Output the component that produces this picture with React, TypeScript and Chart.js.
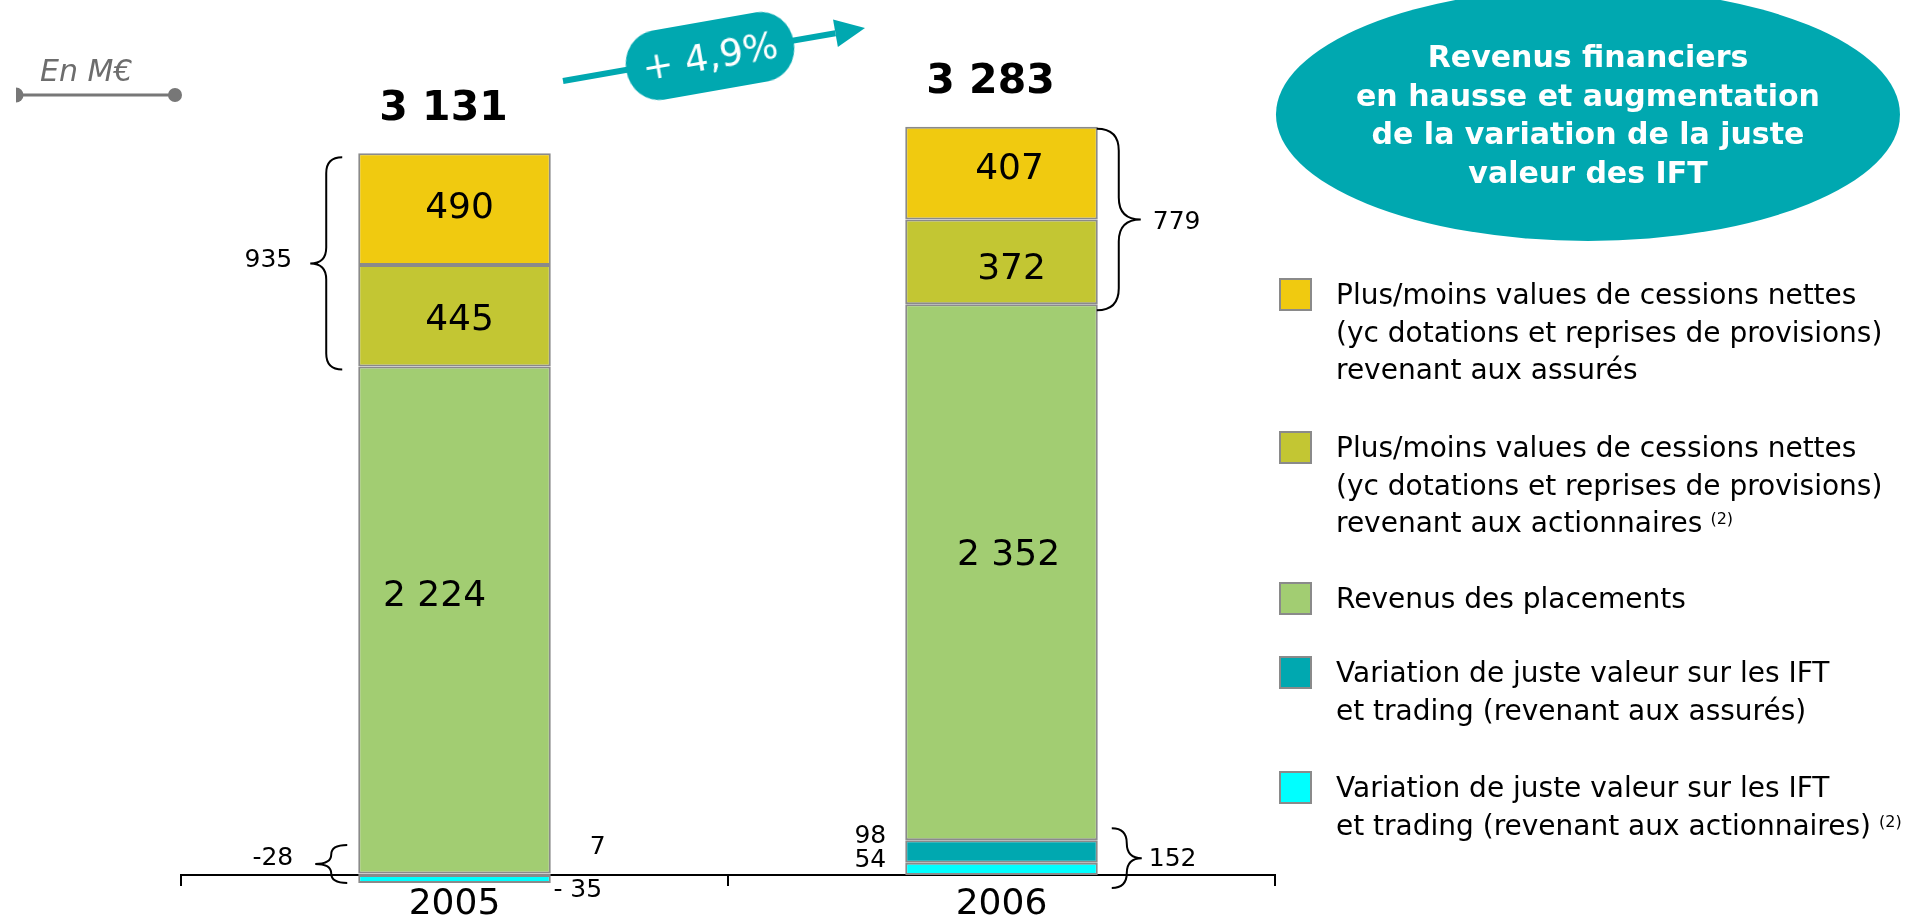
import React, { useEffect, useRef } from 'react';
import { Chart, registerables } from 'chart.js';

Chart.register(...registerables);

// ---------- data ----------
const categories = ['2005', '2006'];
const plusValuesAssures = [490, 407];
const plusValuesActionnaires = [445, 372];
const revenusPlacements = [2224, 2352];
const jvAssures = [7, 98];
const jvActionnaires = [-35, 54];

const seriesColors = ['#F0CA10', '#C3C633', '#A2CD72', '#00A8B0', '#00FFFF'];
const legendLabels = [
  ['Plus/moins values de cessions nettes', '(yc dotations et reprises de provisions)', 'revenant aux assurés'],
  ['Plus/moins values de cessions nettes', '(yc dotations et reprises de provisions)', 'revenant aux actionnaires'],
  ['Revenus des placements'],
  ['Variation de juste valeur sur les IFT', 'et trading (revenant aux assurés)'],
  ['Variation de juste valeur sur les IFT', 'et trading (revenant aux actionnaires)'],
];
const legendNotes = ['', '(2)', '', '', '(2)'];
const bubbleLines = ['Revenus financiers', 'en hausse et augmentation', 'de la variation de la juste', 'valeur des IFT'];
const unitLabel = 'En M€';

// ---------- derived ----------
const seriesTopDown = [plusValuesAssures, plusValuesActionnaires, revenusPlacements, jvAssures, jvActionnaires];
const totals = categories.map((_, i) => seriesTopDown.reduce((s, a) => s + a[i], 0));
const growth = ((totals[1] / totals[0]) - 1) * 100;
const growthLabel = '+ ' + growth.toFixed(1).replace('.', ',') + '%';

// ---------- layout ----------
const W = 1913;
const H = 921;
const SANS = '"DejaVu Sans", "Noto Sans", sans-serif';
const BORDER = '#8A8A8A';
const TEAL = '#00A8B0';
const legendTops = [278, 431, 582, 656, 771];
// in-bar label offsets [dx, dy] for green, olive, yellow per category
const inBarOffsets = [
  [[-20, -23], [7, -17]],
  [[5, 5], [10, 8]],
  [[5, -1], [8, -3]],
];

const fmt = (n: number) => {
  const s = Math.abs(n).toString().replace(/\B(?=(\d{3})+(?!\d))/g, ' ');
  return n < 0 ? '-' + s : s;
};
const fmtSpaced = (n: number) => (n < 0 ? '- ' + fmt(-n) : fmt(n));

function brace(ctx: CanvasRenderingContext2D, x0: number, dir: number, depth: number, yTop: number, yBot: number) {
  const xm = x0 + (dir * depth) / 2;
  const xt = x0 + dir * depth;
  const tipY = (yTop + yBot) / 2;
  const r = Math.min(depth / 2, (yBot - yTop) / 4);
  ctx.beginPath();
  ctx.moveTo(x0, yTop);
  ctx.quadraticCurveTo(xm, yTop, xm, yTop + r);
  ctx.lineTo(xm, tipY - r);
  ctx.quadraticCurveTo(xm, tipY, xt, tipY);
  ctx.quadraticCurveTo(xm, tipY, xm, tipY + r);
  ctx.lineTo(xm, yBot - r);
  ctx.quadraticCurveTo(xm, yBot, x0, yBot);
  ctx.stroke();
  return { xt, tipY };
}

const annotate = {
  id: 'annotate',
  afterDraw(chart: any) {
    const ctx: CanvasRenderingContext2D = chart.ctx;
    const ys = chart.scales.y;
    const meta = (i: number) => chart.getDatasetMeta(i).data as any[];
    const axisY = ys.getPixelForValue(0);
    ctx.save();
    ctx.fillStyle = '#000';
    ctx.strokeStyle = '#000';
    ctx.lineWidth = 2;
    ctx.textBaseline = 'middle';
    ctx.textAlign = 'center';

    // in-bar labels (datasets 2 green, 3 olive, 4 yellow)
    ctx.font = `36px ${SANS}`;
    [2, 3, 4].forEach((di, k) => {
      meta(di).forEach((bar, ci) => {
        const [dx, dy] = inBarOffsets[k][ci];
        ctx.fillText(fmt(chart.data.datasets[di].data[ci]), bar.x + dx, (bar.y + bar.base) / 2 + dy);
      });
    });

    // totals
    ctx.font = `bold 41px ${SANS}`;
    totals.forEach((t, ci) => {
      const bar = meta(4)[ci];
      ctx.fillText(fmt(t), bar.x - 11, bar.y - 44);
    });

    ctx.font = `25px ${SANS}`;
    // top braces
    {
      const b0 = meta(4)[0];
      const l0 = b0.x - b0.width / 2;
      const p = brace(ctx, l0 - 16, -1, 32, b0.y + 4, meta(3)[0].base + 3);
      ctx.textAlign = 'right';
      ctx.fillText(fmt(plusValuesAssures[0] + plusValuesActionnaires[0]), p.xt - 18, p.tipY - 3);
    }
    {
      const b1 = meta(4)[1];
      const r1 = b1.x + b1.width / 2;
      const p = brace(ctx, r1 - 1, 1, 44, b1.y + 2, meta(3)[1].base + 6);
      ctx.textAlign = 'left';
      ctx.fillText(fmt(plusValuesAssures[1] + plusValuesActionnaires[1]), p.xt + 12, p.tipY + 3);
    }
    // bottom braces
    {
      const c0 = meta(0)[0];
      const l0 = c0.x - c0.width / 2;
      const r0 = c0.x + c0.width / 2;
      const p = brace(ctx, l0 - 11, -1, 32, axisY - 30, Math.max(c0.y, c0.base));
      ctx.textAlign = 'right';
      ctx.fillText(fmt(jvAssures[0] + jvActionnaires[0]), p.xt - 22, p.tipY - 5);
      ctx.textAlign = 'center';
      ctx.fillText(fmtSpaced(jvAssures[0]), r0 + 47, axisY - 28);
      ctx.fillText(fmtSpaced(jvActionnaires[0]), r0 + 27, axisY + 15);
    }
    {
      const t1 = meta(1)[1];
      const l1 = t1.x - t1.width / 2;
      const r1 = t1.x + t1.width / 2;
      const p = brace(ctx, r1 + 14, 1, 30, t1.y - 12, axisY + 13);
      ctx.textAlign = 'left';
      ctx.fillText(fmt(jvAssures[1] + jvActionnaires[1]), p.xt + 7, p.tipY + 1);
      ctx.textAlign = 'right';
      ctx.fillText(fmtSpaced(jvAssures[1]), l1 - 19, axisY - 39);
      ctx.fillText(fmtSpaced(jvActionnaires[1]), l1 - 19, axisY - 15);
    }
    ctx.restore();
  },
};

export default function App() {
  const canvasRef = useRef<HTMLCanvasElement | null>(null);

  useEffect(() => {
    const canvas = canvasRef.current;
    if (!canvas) return;
    const bottomUp = [jvActionnaires, jvAssures, revenusPlacements, plusValuesActionnaires, plusValuesAssures];
    const colorsBottomUp = [...seriesColors].reverse();
    const labelsBottomUp = [...legendLabels].reverse();
    const chart = new Chart(canvas, {
      type: 'bar',
      data: {
        labels: categories,
        datasets: bottomUp.map((d, i) => ({
          label: labelsBottomUp[i].join(' '),
          data: d,
          backgroundColor: colorsBottomUp[i],
          borderColor: BORDER,
          borderWidth: 2,
          borderSkipped: false,
          clip: false as any,
          barPercentage: 0.352,
          categoryPercentage: 1,
        })),
      },
      options: {
        animation: false,
        responsive: false,
        maintainAspectRatio: false,
        devicePixelRatio: 1,
        layout: { padding: { left: 181, right: 638, top: 100, bottom: 0 } },
        plugins: { legend: { display: false }, tooltip: { enabled: false }, title: { display: false } },
        scales: {
          x: {
            stacked: true,
            position: 'bottom',
            offset: true,
            z: 1,
            grid: { offset: true, drawOnChartArea: false, drawTicks: true, tickLength: 11, color: '#000', lineWidth: 2 },
            border: { display: true, color: '#000', width: 2 },
            ticks: { color: '#000', padding: 1, maxRotation: 0, autoSkip: false, font: { family: SANS, size: 36, lineHeight: 1 } },
            afterFit: (s: any) => { s.height = 46; },
          },
          y: { stacked: true, display: false, min: 0, max: 3400 },
        },
      },
      plugins: [annotate],
    });
    return () => chart.destroy();
  }, []);

  // arrow geometry
  const ax0 = 563, ay0 = 81, tipX = 865, tipY = 28;
  const len = Math.hypot(tipX - ax0, tipY - ay0);
  const ux = (tipX - ax0) / len, uy = (tipY - ay0) / len;
  const bx = tipX - ux * 30, by = tipY - uy * 30;
  const px = -uy, py = ux;
  const head = `${tipX},${tipY} ${bx + px * 14},${by + py * 14} ${bx - px * 14},${by - py * 14}`;

  return (
    <div style={{ position: 'fixed', left: 0, top: 0, width: W, height: H, overflow: 'hidden', background: '#fff', fontFamily: SANS }}>
      <canvas ref={canvasRef} width={W} height={H} style={{ position: 'absolute', left: 0, top: 0 }} />
      <svg width={W} height={H} style={{ position: 'absolute', left: 0, top: 0, pointerEvents: 'none' }}>
        <line x1={ax0} y1={ay0} x2={bx} y2={by} stroke={TEAL} strokeWidth={6} />
        <polygon points={head} fill={TEAL} />
        <line x1={18} y1={95} x2={175} y2={95} stroke="#777" strokeWidth={3} />
        <circle cx={175} cy={95} r={7} fill="#777" />
        <path d="M 16 87.5 A 7.5 7.5 0 0 1 16 102.5 Z" fill="#777" />
      </svg>
      <div style={{ position: 'absolute', left: 40, top: 56, fontSize: 30, lineHeight: '30px', fontStyle: 'italic', color: '#6d6d6d', whiteSpace: 'nowrap' }}>
        {unitLabel}
      </div>
      <div
        style={{
          position: 'absolute', left: 710 - 85, top: 56 - 35, width: 170, height: 70,
          background: TEAL, borderRadius: '32px / 35px', transform: 'rotate(-10deg)',
          display: 'flex', alignItems: 'center', justifyContent: 'center',
          color: '#fff', fontSize: 37, whiteSpace: 'nowrap',
        }}
      >
        {growthLabel}
      </div>
      <div style={{ position: 'absolute', left: 1276, top: -12, width: 624, height: 253, borderRadius: '50%', background: TEAL }} />
      <div style={{ position: 'absolute', left: 1276, top: 38, width: 624, textAlign: 'center', color: '#fff', fontWeight: 'bold', fontSize: 30, lineHeight: '38.5px' }}>
        {bubbleLines.map((l, i) => (<div key={i}>{l}</div>))}
      </div>
      {legendLabels.map((lines, i) => (
        <div key={i} style={{ position: 'absolute', left: 1279, top: legendTops[i], display: 'flex', alignItems: 'flex-start' }}>
          <div style={{ width: 33, height: 33, boxSizing: 'border-box', border: `2px solid ${BORDER}`, background: seriesColors[i], flex: 'none' }} />
          <div style={{ marginLeft: 24, marginTop: -2, fontSize: 28, lineHeight: '37.5px', color: '#000', whiteSpace: 'nowrap' }}>
            {lines.map((l, j) => (
              <div key={j}>
                {l}
                {j === lines.length - 1 && legendNotes[i] ? (
                  <span style={{ fontSize: 16, verticalAlign: 'top', position: 'relative', top: -4, marginLeft: 8 }}>{legendNotes[i]}</span>
                ) : null}
              </div>
            ))}
          </div>
        </div>
      ))}
    </div>
  );
}
